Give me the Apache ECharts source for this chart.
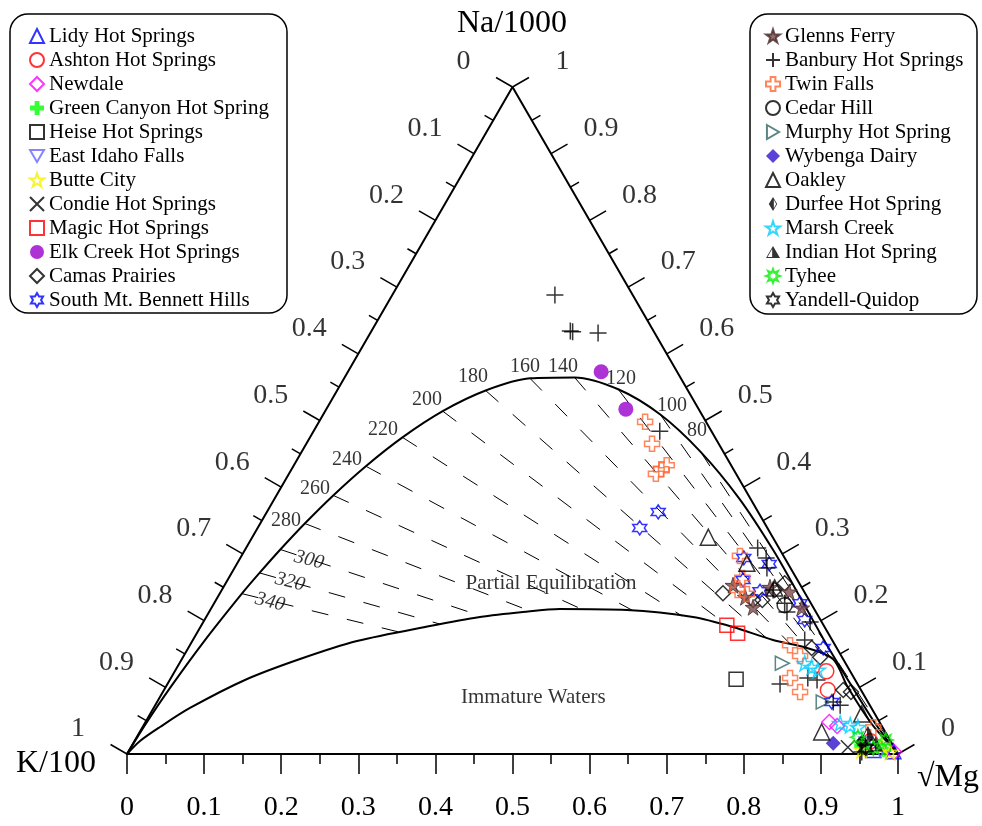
<!DOCTYPE html>
<html>
<head>
<meta charset="utf-8">
<script src="https://cdn.jsdelivr.net/npm/echarts@6/dist/echarts.min.js"></script>
<style>
  html, body { margin: 0; padding: 0; background: #fff; }
  #chart { width: 982px; height: 826px; }
</style>
</head>
<body>
<div id="chart"></div>
<script>
// Giggenbach Na-K-Mg ternary plot
// every point is [x along the sqrt(Mg) base, Na/1000 fraction]
const FONT = '"Liberation Serif", "Times New Roman", serif';

// full equilibrium line
const fullEquilibrium = [[0, 0], [0.0245, 0.0455], [0.0563, 0.0998], [0.0997, 0.1685], [0.149, 0.2404],
  [0.1719, 0.2715], [0.1989, 0.3066], [0.2306, 0.3456], [0.2675, 0.3877], [0.3098, 0.4315],
  [0.3573, 0.4747], [0.4095, 0.514], [0.4652, 0.5449], [0.5227, 0.5632], [0.5805, 0.5646],
  [0.6371, 0.5468], [0.6917, 0.5089], [0.744, 0.453], [0.7939, 0.3833], [0.8385, 0.305],
  [0.873, 0.235], [0.907, 0.165], [0.941, 0.1], [0.971, 0.045], [1, 0]];

// immature waters boundary
const partialLine = [[0, 0], [0.0169, 0.0195], [0.0428, 0.0405], [0.0817, 0.069], [0.153, 0.111],
  [0.2244, 0.1424], [0.2983, 0.1694], [0.393, 0.1919], [0.4578, 0.2054], [0.5136, 0.2129],
  [0.5616, 0.2174], [0.6485, 0.2159], [0.7341, 0.2054], [0.786, 0.1904], [0.8379, 0.1709],
  [0.882, 0.1589], [0.9157, 0.1424], [0.935, 0.1], [0.966, 0.045], [1, 0]];

// isotherms (start on the full equilibrium line)
const tempLabels = ['80', '100', '120', '140', '160', '180', '200', '220', '240', '260', '280', '300', '320', '340'];
const tempStart = [[0.744, 0.453], [0.6917, 0.5089], [0.6371, 0.5468], [0.5805, 0.5646], [0.5227, 0.5632],
  [0.4652, 0.5449], [0.4095, 0.514], [0.3573, 0.4747], [0.3098, 0.4315], [0.2675, 0.3877],
  [0.2306, 0.3456], [0.1989, 0.3066], [0.1719, 0.2715], [0.149, 0.2404]];
const tempLabelPos = [[0.7393, 0.4843], [0.7069, 0.5217], [0.6407, 0.5622], [0.5655, 0.5802], [0.5162, 0.5802],
  [0.4488, 0.5652], [0.3891, 0.5307], [0.332, 0.4858], [0.2853, 0.4408], [0.2438, 0.3973],
  [0.2062, 0.3493], [0.2361, 0.2909], [0.2114, 0.2579], [0.1855, 0.2279]];

const kLabels = ['0', '0.1', '0.2', '0.3', '0.4', '0.5', '0.6', '0.7', '0.8', '0.9', '1'];
const naLabels = ['1', '0.9', '0.8', '0.7', '0.6', '0.5', '0.4', '0.3', '0.2', '0.1', '0'];

// samples
const lidy = [[0.968, 0.006], [0.994, 0.004]];
const ashton = [[0.907, 0.124], [0.909, 0.096], [0.964, 0.019]];
const newdale = [[0.911, 0.048], [0.921, 0.042], [0.995, 0.003]];
const greenCanyon = [[0.953, 0.012], [0.982, 0.007]];
const heise = [[0.79, 0.112]];
const eastIdaho = [[0.958, 0.015], [0.977, 0.006]];
const butteCity = [[0.953, 0.006], [0.979, 0.013], [0.99, 0.003]];
const condie = [[0.935, 0.01], [0.957, 0.012]];
const magic = [[0.778, 0.193], [0.792, 0.181]];
const elkCreek = [[0.615, 0.573], [0.647, 0.517]];
const camas = [[0.773, 0.241], [0.812, 0.231], [0.824, 0.231], [0.853, 0.256], [0.84, 0.246],
  [0.888, 0.159], [0.899, 0.145], [0.929, 0.096], [0.939, 0.093]];
const bennett = [[0.689, 0.363], [0.665, 0.339], [0.8, 0.294], [0.833, 0.285], [0.799, 0.261],
  [0.821, 0.244], [0.873, 0.226], [0.879, 0.201], [0.903, 0.159], [0.914, 0.078]];
const glenns = [[0.786, 0.253], [0.812, 0.22], [0.834, 0.25], [0.859, 0.243], [0.875, 0.219], [0.802, 0.235]];
const banbury = [[0.555, 0.688], [0.575, 0.634], [0.578, 0.633], [0.611, 0.631], [0.691, 0.484],
  [0.818, 0.309], [0.829, 0.294], [0.83, 0.279], [0.838, 0.246], [0.853, 0.226], [0.856, 0.213],
  [0.879, 0.171], [0.886, 0.198], [0.847, 0.105], [0.883, 0.114], [0.895, 0.111], [0.916, 0.078],
  [0.925, 0.073], [0.953, 0.003], [0.958, 0.013]];
const twinFalls = [[0.672, 0.498], [0.681, 0.465], [0.7, 0.433], [0.693, 0.427], [0.686, 0.42],
  [0.795, 0.297], [0.798, 0.264], [0.792, 0.246], [0.804, 0.24], [0.86, 0.163], [0.873, 0.147],
  [0.86, 0.114], [0.873, 0.093], [0.968, 0.04]];
const cedarHill = [[0.853, 0.223]];
const murphy = [[0.85, 0.136], [0.903, 0.078]];
const wybenga = [[0.916, 0.016]];
const oakley = [[0.754, 0.325], [0.804, 0.286], [0.84, 0.249], [0.953, 0.06], [0.901, 0.033]];
const durfee = [[0.953, 0.018]];
const marsh = [[0.879, 0.136], [0.888, 0.13], [0.896, 0.126], [0.925, 0.046], [0.938, 0.043], [0.948, 0.04]];
const indian = [[0.961, 0.031], [0.971, 0.015]];
const tyhee = [[0.948, 0.025], [0.984, 0.021], [0.968, 0.009]];
const yandell = [[0.958, 0.009]];

// symbol paths
const STAR5 = 'path://M5,0L6.123,3.455L9.755,3.455L6.817,5.59L7.939,9.045L5,6.91L2.061,9.045L3.183,5.59L0.245,3.455L3.877,3.455Z';
const STAR6 = 'path://M5,0L6.443,2.5L9.33,2.5L7.887,5L9.33,7.5L6.443,7.5L5,10L3.557,7.5L0.67,7.5L2.113,5L0.67,2.5L3.557,2.5Z';
const STAR8 = 'path://M5,0L5.957,2.69L8.536,1.464L7.31,4.043L10,5L7.31,5.957L8.536,8.536L5.957,7.31L5,10L4.043,7.31L1.464,8.536L2.69,5.957L0,5L2.69,4.043L1.464,1.464L4.043,2.69Z';
const CROSS = 'path://M3.3,0H6.7V3.3H10V6.7H6.7V10H3.3V6.7H0V3.3H3.3Z';
const PLUS = 'path://M0,5H10M5,0V10';
const XMARK = 'path://M0,0L10,10M10,0L0,10';
const TRI_DOWN = 'path://M0,0H10L5,8.66Z';
const TRI_RIGHT = 'path://M0,0L8.66,5L0,10Z';
const HALF_TRI = 'path://M5,0L10,8.66L0,8.66Z M4.4,2.2L1.1,7.9L4.4,7.9Z';
const HALF_DIAMOND = 'path://M3,0L6,5L3,10L0,5Z M3.6,1.9L3.6,8.1L5.3,5Z';

function hollow(c, w) { return { color: 'rgba(0,0,0,0)', borderColor: c, borderWidth: w || 1.5 }; }
function filled(c, bc, w) { return { color: c, borderColor: bc || c, borderWidth: w || 0 }; }

const leftGroups = [
  ['Lidy Hot Springs', lidy, 'triangle', 15, hollow('#0000ff')],
  ['Ashton Hot Springs', ashton, 'circle', 15, hollow('#ff0000')],
  ['Newdale', newdale, 'diamond', 15, hollow('#ff00ff')],
  ['Green Canyon Hot Spring', greenCanyon, CROSS, 15, filled('#00ff00')],
  ['Heise Hot Springs', heise, 'rect', 14, hollow('#000000')],
  ['East Idaho Falls', eastIdaho, TRI_DOWN, 14, hollow('#6666ff')],
  ['Butte City', butteCity, STAR5, 15, hollow('#f2f200')],
  ['Condie Hot Springs', condie, XMARK, 14, hollow('#000000')],
  ['Magic Hot Springs', magic, 'rect', 14, hollow('#ff0000')],
  ['Elk Creek Hot Springs', elkCreek, 'circle', 15, filled('#9900cc')],
  ['Camas Prairies', camas, 'diamond', 15, hollow('#000000')],
  ['South Mt. Bennett Hills', bennett, STAR6, 14, hollow('#0000ff')]
];
const rightGroups = [
  ['Glenns Ferry', glenns, STAR5, 16, filled('#7b4b4b', '#4a2a2a', 1)],
  ['Banbury Hot Springs', banbury, PLUS, 17, hollow('#000000')],
  ['Twin Falls', twinFalls, CROSS, 15, hollow('#ff6633')],
  ['Cedar Hill', cedarHill, 'circle', 15, hollow('#000000')],
  ['Murphy Hot Spring', murphy, TRI_RIGHT, 14, hollow('#336666')],
  ['Wybenga Dairy', wybenga, 'diamond', 15, filled('#3311cc')],
  ['Oakley', oakley, 'triangle', 16, hollow('#000000')],
  ['Durfee Hot Spring', durfee, HALF_DIAMOND, 14, filled('#000000')],
  ['Marsh Creek', marsh, STAR5, 15, hollow('#00ccff')],
  ['Indian Hot Spring', indian, HALF_TRI, 15, filled('#000000')],
  ['Tyhee', tyhee, STAR8, 15, hollow('#00ee00')],
  ['Yandell-Quidop', yandell, STAR6, 14, hollow('#000000', 2)]
];

// where an isotherm (running to the Mg corner) meets the immature line
function isoEnd(s) {
  const m = [1, 0];
  let best = 1;
  for (let i = 0; i < partialLine.length - 1; i++) {
    const a = partialLine[i], b = partialLine[i + 1];
    const d1 = [m[0] - s[0], m[1] - s[1]], d2 = [b[0] - a[0], b[1] - a[1]];
    const r = [a[0] - s[0], a[1] - s[1]];
    const det = -d1[0] * d2[1] + d2[0] * d1[1];
    if (Math.abs(det) < 1e-12) continue;
    const u = (-r[0] * d2[1] + d2[0] * r[1]) / det;
    const v = (d1[0] * r[1] - d1[1] * r[0]) / det;
    if (u > 0.01 && u < best && v >= 0 && v <= 1) best = u;
  }
  return [s[0] + best * (m[0] - s[0]), s[1] + best * (m[1] - s[1])];
}

const series = [];

// triangle frame
series.push({
  type: 'line', data: [[0, 0], [0.5, 1], [1, 0], [0, 0]], symbol: 'none', silent: true, z: 3,
  lineStyle: { color: '#000', width: 2 }, clip: false
});
// equilibrium lines
series.push({
  type: 'line', data: fullEquilibrium, symbol: 'none', smooth: 0.3, silent: true, z: 3,
  lineStyle: { color: '#000', width: 2 }, clip: false
});
series.push({
  type: 'line', data: partialLine, symbol: 'none', smooth: 0.3, silent: true, z: 3,
  lineStyle: { color: '#000', width: 2 }, clip: false
});
// dashed isotherms
series.push({
  type: 'lines', coordinateSystem: 'cartesian2d', silent: true, z: 2,
  data: tempStart.map(s => ({ coords: [s, isoEnd(s)] })),
  lineStyle: { color: '#000', width: 1, type: [17, 19], opacity: 1 }
});
// side ticks (left edge and right edge)
const sideTicks = [];
for (let i = 0; i <= 20; i++) { sideTicks.push([i / 20, 0]); sideTicks.push([i / 20, 1]); }
series.push({
  type: 'custom', data: sideTicks, silent: true, z: 3, clip: false,
  renderItem(params, api) {
    const t = api.value(0), side = api.value(1);
    const p = api.coord(side ? [0.5 + 0.5 * t, 1 - t] : [0.5 - 0.5 * t, 1 - t]);
    const len = (Math.round(t * 20) % 2 === 0) ? 19 : 10;
    const nx = side ? 0.866 : -0.866;
    return {
      type: 'line',
      shape: { x1: p[0], y1: p[1], x2: p[0] + nx * len, y2: p[1] - 0.5 * len },
      style: { stroke: '#000', lineWidth: 1.5 }
    };
  }
});
// side tick labels
series.push({
  type: 'scatter', symbolSize: 0, silent: true, clip: false, z: 3,
  data: kLabels.map(k => ({ value: [(1 - Number(k)) / 2, 1 - Number(k)], name: k })),
  label: { show: true, position: 'inside', formatter: '{b}', offset: [-49, -25], color: '#000', fontSize: 28, fontFamily: FONT }
});
series.push({
  type: 'scatter', symbolSize: 0, silent: true, clip: false, z: 3,
  data: naLabels.map(n => ({ value: [1 - Number(n) / 2, Number(n)], name: n })),
  label: { show: true, position: 'inside', formatter: '{b}', offset: [50, -25], color: '#000', fontSize: 28, fontFamily: FONT }
});
// temperature labels
series.push({
  type: 'scatter', symbolSize: 0, silent: true, clip: false, z: 4,
  data: tempLabels.map((t, i) => {
    const it = { value: tempLabelPos[i], name: t };
    if (Number(t) >= 300) it.label = { fontStyle: 'italic', rotate: -14 };
    return it;
  }),
  label: { show: true, position: 'inside', formatter: '{b}', color: '#000', fontSize: 20, fontFamily: FONT }
});
// area names
series.push({
  type: 'scatter', symbolSize: 0, silent: true, clip: false, z: 4,
  data: [
    { value: [0.55, 0.256], name: 'Partial Equilibration' },
    { value: [0.527, 0.084], name: 'Immature Waters' }
  ],
  label: { show: true, position: 'inside', formatter: '{b}', color: '#000', fontSize: 21, fontFamily: FONT }
});

leftGroups.concat(rightGroups).forEach(g => {
  series.push({
    type: 'scatter', name: g[0], data: g[1], symbol: g[2], symbolSize: g[3],
    itemStyle: g[4], clip: false, z: 6, emphasis: { disabled: true }
  });
});

const chart = echarts.init(document.getElementById('chart'), null, { renderer: 'canvas' });

const legendBase = {
  orient: 'vertical', top: 25, itemWidth: 14, itemHeight: 14, itemGap: 2, padding: 0,
  selectedMode: false,
  textStyle: { fontFamily: FONT, fontSize: 21, lineHeight: 22, color: '#000' }
};

chart.setOption({
  animation: false,
  backgroundColor: '#fff',
  grid: { left: 127, right: 84, top: 87, bottom: 72 },
  xAxis: {
    type: 'value', min: 0, max: 1, interval: 0.1,
    splitLine: { show: false },
    axisLine: { show: true, lineStyle: { color: '#000', width: 2 } },
    axisTick: { show: true, length: 20, lineStyle: { color: '#000', width: 1.5 } },
    minorTick: { show: true, splitNumber: 2, length: 10, lineStyle: { color: '#000', width: 1.5 } },
    axisLabel: {
      margin: 40, color: '#000', fontSize: 28, fontFamily: FONT,
      formatter: v => String(Math.round(v * 10) / 10)
    }
  },
  yAxis: { type: 'value', min: 0, max: 1, show: false },
  legend: [
    Object.assign({ left: 29, data: leftGroups.map(g => g[0]) }, legendBase),
    Object.assign({ left: 765, data: rightGroups.map(g => g[0]) }, legendBase)
  ],
  graphic: [
    { type: 'rect', shape: { x: 10, y: 14, width: 277, height: 299, r: 18 }, style: { fill: 'none', stroke: '#000', lineWidth: 1.5 } },
    { type: 'rect', shape: { x: 750, y: 14, width: 227, height: 300, r: 18 }, style: { fill: 'none', stroke: '#000', lineWidth: 1.5 } },
    { type: 'text', x: 512, y: 24, style: { text: 'Na/1000', fontSize: 32, fontFamily: FONT, fill: '#000', align: 'center', verticalAlign: 'middle' } },
    { type: 'text', x: 56, y: 764, style: { text: 'K/100', fontSize: 32, fontFamily: FONT, fill: '#000', align: 'center', verticalAlign: 'middle' } },
    { type: 'text', x: 948, y: 778, style: { text: '\u221AMg', fontSize: 32, fontFamily: FONT, fill: '#000', align: 'center', verticalAlign: 'middle' } }
  ],
  series: series
});
</script>
</body>
</html>
